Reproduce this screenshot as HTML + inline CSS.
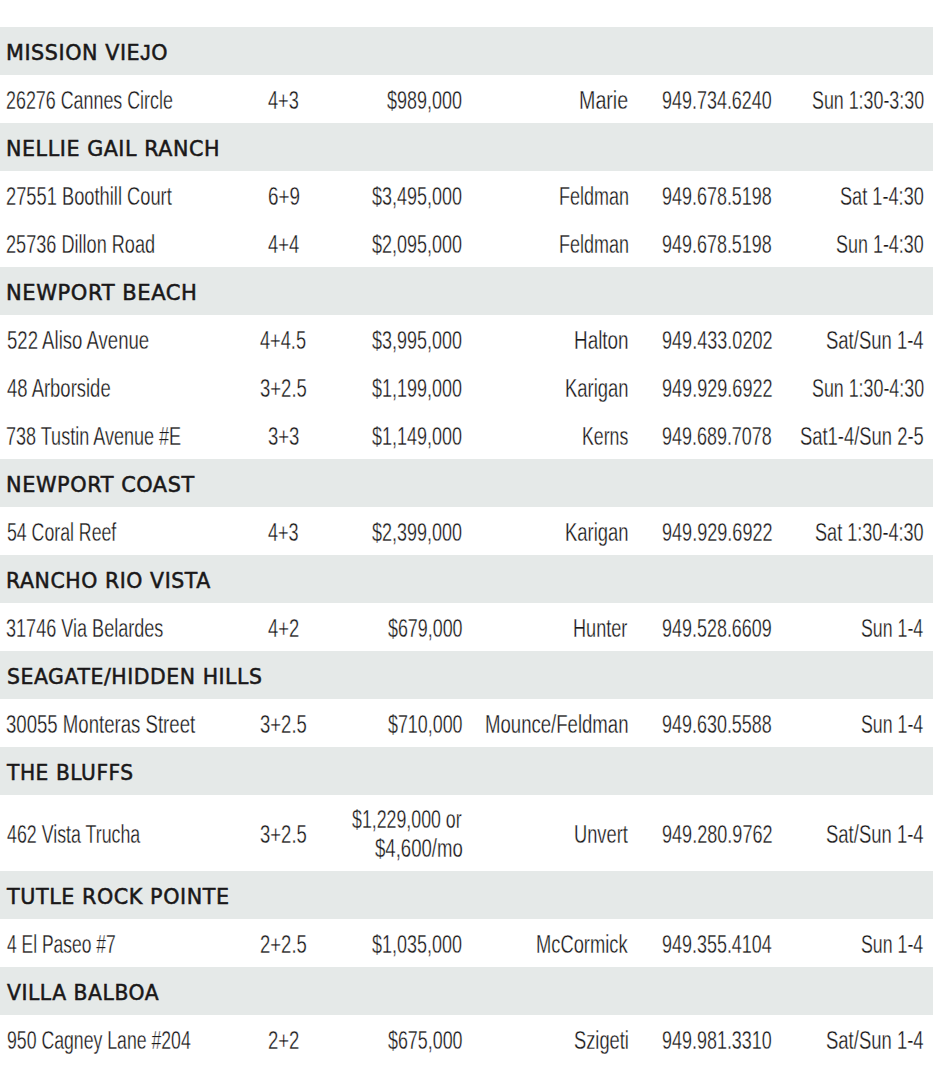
<!DOCTYPE html>
<html><head><meta charset="utf-8"><title>Open Houses</title>
<style>
html,body{margin:0;padding:0;background:#fff;}
body{width:933px;height:1070px;overflow:hidden;position:relative;}
.b{position:absolute;left:0;width:933px;height:48px;background:#e5e9e8;}
.x,.h{position:absolute;margin:0;white-space:nowrap;text-decoration:none;color:#1a1819;transform-origin:0 0;}
.x{font-family:'Liberation Sans',sans-serif;font-size:25px;line-height:30px;font-weight:400;-webkit-text-stroke:0.3px #fff;}
.h{font-family:'DejaVu Sans',sans-serif;font-size:22px;line-height:30px;font-weight:400;letter-spacing:0.6px;-webkit-text-stroke:0.55px #1a1819;}
</style></head><body>
<div class="b" style="top:27px"></div>
<div class="b" style="top:123px"></div>
<div class="b" style="top:267px"></div>
<div class="b" style="top:459px"></div>
<div class="b" style="top:555px"></div>
<div class="b" style="top:651px"></div>
<div class="b" style="top:747px"></div>
<div class="b" style="top:871px"></div>
<div class="b" style="top:967px"></div>
<div class="h" style="left:6.22px;top:38.00px;transform:scaleX(0.9408)">MISSION VIE<span style="font-family:'Liberation Sans'">J</span>O</div>
<span class="x" style="left:6.17px;top:85.00px;transform:scaleX(0.7148)">26276 Cannes Circle</span>
<span class="x" style="left:267.67px;top:85.00px;transform:scaleX(0.7275)">4+3</span>
<span class="x" style="left:387.38px;top:85.00px;transform:scaleX(0.7196)">$989,000</span>
<span class="x" style="left:579.03px;top:85.00px;transform:scaleX(0.7864)">Marie</span>
<span class="x" style="left:661.88px;top:85.00px;transform:scaleX(0.7179)">949.734.6240</span>
<span class="x" style="left:811.67px;top:85.00px;transform:scaleX(0.7136)">Sun 1:30-3:30</span>
<div class="h" style="left:6.22px;top:134.00px;transform:scaleX(0.9384)">NELLIE GAIL RANCH</div>
<span class="x" style="left:6.14px;top:181.00px;transform:scaleX(0.7317)">27551 Boothill Court</span>
<span class="x" style="left:267.59px;top:181.00px;transform:scaleX(0.7538)">6+9</span>
<span class="x" style="left:372.38px;top:181.00px;transform:scaleX(0.7187)">$3,495,000</span>
<span class="x" style="left:558.66px;top:181.00px;transform:scaleX(0.7194)">Feldman</span>
<span class="x" style="left:661.88px;top:181.00px;transform:scaleX(0.7179)">949.678.5198</span>
<span class="x" style="left:840.15px;top:181.00px;transform:scaleX(0.7268)">Sat 1-4:30</span>
<span class="x" style="left:6.15px;top:229.00px;transform:scaleX(0.7248)">25736 Dillon Road</span>
<span class="x" style="left:268.37px;top:229.00px;transform:scaleX(0.7350)">4+4</span>
<span class="x" style="left:372.38px;top:229.00px;transform:scaleX(0.7187)">$2,095,000</span>
<span class="x" style="left:558.66px;top:229.00px;transform:scaleX(0.7194)">Feldman</span>
<span class="x" style="left:661.88px;top:229.00px;transform:scaleX(0.7179)">949.678.5198</span>
<span class="x" style="left:836.16px;top:229.00px;transform:scaleX(0.7176)">Sun 1-4:30</span>
<div class="h" style="left:6.19px;top:278.00px;transform:scaleX(0.9566)">NEWPORT BEACH</div>
<span class="x" style="left:6.86px;top:325.00px;transform:scaleX(0.7429)">522 Aliso Avenue</span>
<span class="x" style="left:260.37px;top:325.00px;transform:scaleX(0.7279)">4+4.5</span>
<span class="x" style="left:372.38px;top:325.00px;transform:scaleX(0.7187)">$3,995,000</span>
<span class="x" style="left:574.09px;top:325.00px;transform:scaleX(0.7559)">Halton</span>
<span class="x" style="left:661.88px;top:325.00px;transform:scaleX(0.7227)">949.433.0202</span>
<span class="x" style="left:826.12px;top:325.00px;transform:scaleX(0.7395)">Sat/Sun 1-4</span>
<span class="x" style="left:6.86px;top:373.00px;transform:scaleX(0.7384)">48 Arborside</span>
<span class="x" style="left:259.62px;top:373.00px;transform:scaleX(0.7400)">3+2.5</span>
<span class="x" style="left:372.38px;top:373.00px;transform:scaleX(0.7187)">$1,199,000</span>
<span class="x" style="left:565.13px;top:373.00px;transform:scaleX(0.7366)">Karigan</span>
<span class="x" style="left:661.88px;top:373.00px;transform:scaleX(0.7227)">949.929.6922</span>
<span class="x" style="left:811.67px;top:373.00px;transform:scaleX(0.7136)">Sun 1:30-4:30</span>
<span class="x" style="left:6.16px;top:421.00px;transform:scaleX(0.7213)">738 Tustin Avenue #E</span>
<span class="x" style="left:267.62px;top:421.00px;transform:scaleX(0.7410)">3+3</span>
<span class="x" style="left:372.38px;top:421.00px;transform:scaleX(0.7187)">$1,149,000</span>
<span class="x" style="left:581.68px;top:421.00px;transform:scaleX(0.7081)">Kerns</span>
<span class="x" style="left:661.88px;top:421.00px;transform:scaleX(0.7179)">949.689.7078</span>
<span class="x" style="left:800.13px;top:421.00px;transform:scaleX(0.7358)">Sat1-4/Sun 2-5</span>
<div class="h" style="left:6.21px;top:470.00px;transform:scaleX(0.9467)">NEWPORT COAST</div>
<span class="x" style="left:6.89px;top:517.00px;transform:scaleX(0.7085)">54 Coral Reef</span>
<span class="x" style="left:268.38px;top:517.00px;transform:scaleX(0.7225)">4+3</span>
<span class="x" style="left:372.38px;top:517.00px;transform:scaleX(0.7187)">$2,399,000</span>
<span class="x" style="left:565.13px;top:517.00px;transform:scaleX(0.7366)">Karigan</span>
<span class="x" style="left:661.88px;top:517.00px;transform:scaleX(0.7227)">949.929.6922</span>
<span class="x" style="left:815.15px;top:517.00px;transform:scaleX(0.7238)">Sat 1:30-4:30</span>
<div class="h" style="left:6.24px;top:566.00px;transform:scaleX(0.9307)">RANCHO RIO VISTA</div>
<span class="x" style="left:6.15px;top:613.00px;transform:scaleX(0.7228)">31746 Via Belardes</span>
<span class="x" style="left:268.37px;top:613.00px;transform:scaleX(0.7350)">4+2</span>
<span class="x" style="left:387.89px;top:613.00px;transform:scaleX(0.7147)">$679,000</span>
<span class="x" style="left:572.65px;top:613.00px;transform:scaleX(0.7247)">Hunter</span>
<span class="x" style="left:661.88px;top:613.00px;transform:scaleX(0.7179)">949.528.6609</span>
<span class="x" style="left:861.18px;top:613.00px;transform:scaleX(0.7106)">Sun 1-4</span>
<div class="h" style="left:6.77px;top:662.00px;transform:scaleX(0.9275)">SEAGATE/HIDDEN HILLS</div>
<span class="x" style="left:6.11px;top:709.00px;transform:scaleX(0.7437)">30055 Monteras Street</span>
<span class="x" style="left:259.62px;top:709.00px;transform:scaleX(0.7400)">3+2.5</span>
<span class="x" style="left:387.89px;top:709.00px;transform:scaleX(0.7147)">$710,000</span>
<span class="x" style="left:485.11px;top:709.00px;transform:scaleX(0.7429)">Mounce/Feldman</span>
<span class="x" style="left:661.88px;top:709.00px;transform:scaleX(0.7179)">949.630.5588</span>
<span class="x" style="left:861.18px;top:709.00px;transform:scaleX(0.7106)">Sun 1-4</span>
<div class="h" style="left:7.30px;top:758.00px;transform:scaleX(0.9175)">THE BLUFFS</div>
<span class="x" style="left:6.89px;top:819.00px;transform:scaleX(0.7118)">462 Vista Trucha</span>
<span class="x" style="left:259.62px;top:819.00px;transform:scaleX(0.7400)">3+2.5</span>
<span class="x" style="left:352.19px;top:803.50px;transform:scaleX(0.7105)">$1,229,000 or</span>
<span class="x" style="left:374.66px;top:833.30px;transform:scaleX(0.7431)">$4,600/mo</span>
<span class="x" style="left:573.64px;top:819.00px;transform:scaleX(0.7310)">Unvert</span>
<span class="x" style="left:661.88px;top:819.00px;transform:scaleX(0.7227)">949.280.9762</span>
<span class="x" style="left:826.12px;top:819.00px;transform:scaleX(0.7395)">Sat/Sun 1-4</span>
<div class="h" style="left:7.30px;top:882.00px;transform:scaleX(0.9409)">TUTLE ROCK POINTE</div>
<span class="x" style="left:6.90px;top:929.00px;transform:scaleX(0.6987)">4 El Paseo #7</span>
<span class="x" style="left:259.62px;top:929.00px;transform:scaleX(0.7400)">2+2.5</span>
<span class="x" style="left:372.38px;top:929.00px;transform:scaleX(0.7187)">$1,035,000</span>
<span class="x" style="left:536.13px;top:929.00px;transform:scaleX(0.7328)">McCormick</span>
<span class="x" style="left:661.88px;top:929.00px;transform:scaleX(0.7179)">949.355.4104</span>
<span class="x" style="left:861.18px;top:929.00px;transform:scaleX(0.7106)">Sun 1-4</span>
<div class="h" style="left:7.40px;top:978.00px;transform:scaleX(0.9226)">VILLA BALBOA</div>
<span class="x" style="left:6.89px;top:1025.00px;transform:scaleX(0.7070)">950 Cagney Lane #204</span>
<span class="x" style="left:267.62px;top:1025.00px;transform:scaleX(0.7410)">2+2</span>
<span class="x" style="left:387.89px;top:1025.00px;transform:scaleX(0.7147)">$675,000</span>
<span class="x" style="left:573.64px;top:1025.00px;transform:scaleX(0.7310)">Szigeti</span>
<span class="x" style="left:661.88px;top:1025.00px;transform:scaleX(0.7179)">949.981.3310</span>
<span class="x" style="left:826.12px;top:1025.00px;transform:scaleX(0.7395)">Sat/Sun 1-4</span>
</body></html>
